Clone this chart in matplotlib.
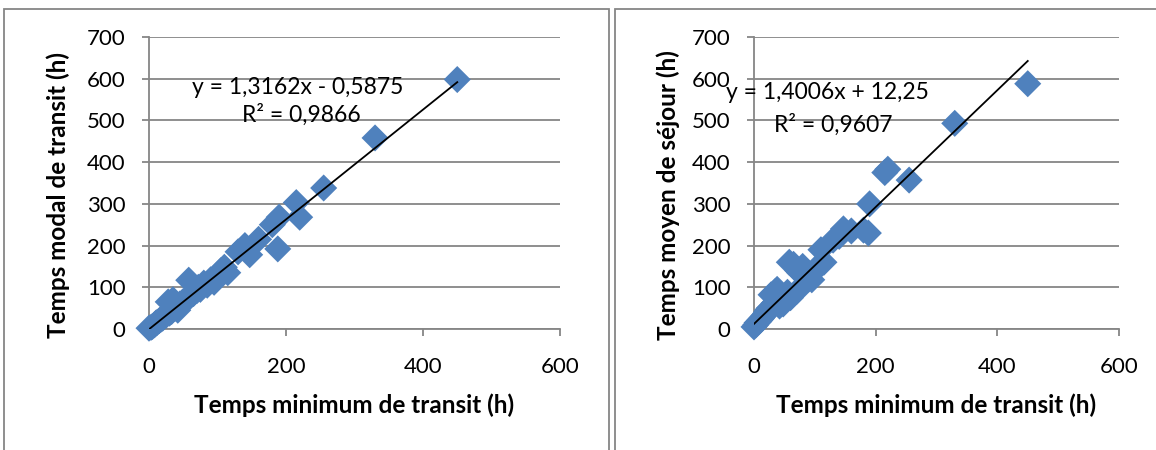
import matplotlib
matplotlib.use("Agg")
import matplotlib.pyplot as plt
from matplotlib.patches import Rectangle
import numpy as np

plt.rcParams['font.family'] = ['Lato', 'DejaVu Sans']

# Shared x values: minimum transit time (h)
x_min_transit = [0, 3, 5, 8, 10, 12, 15, 18, 20, 22, 25, 28, 30, 33, 35, 38, 40, 42,
                 45, 48, 50, 55, 58, 60, 65, 70, 72, 75, 80, 85, 90, 95, 100, 105,
                 110, 115, 130, 140, 147, 160, 180, 188, 190, 215, 220, 255, 330, 450]
# Left: modal transit time (h)
y_modal = [2, 4, 6, 10, 14, 16, 20, 24, 26, 30, 33, 65, 38, 42, 70, 50, 55, 45,
           60, 62, 66, 72, 117, 78, 85, 92, 100, 95, 110, 105, 118, 112, 130, 140,
           148, 135, 185, 200, 178, 215, 250, 192, 268, 303, 268, 338, 458, 598]
# Right: mean residence time (h)
y_mean = [5, 10, 15, 18, 22, 25, 30, 35, 40, 45, 50, 82, 55, 62, 90, 95, 65, 55,
          75, 60, 70, 88, 160, 75, 155, 90, 140, 135, 150, 130, 120, 118, 140, 150,
          190, 160, 213, 222, 240, 235, 237, 230, 300, 375, 383, 357, 493, 588]

# Trend lines (as displayed)
fit_left = (1.3162, -0.5875)
fit_right = (1.4006, 12.25)
eq_left = ["y = 1,3162x - 0,5875", "R² = 0,9866"]
eq_right = ["y = 1,4006x + 12,25", "R² = 0,9607"]
ylabels = ["Temps modal de transit (h)", "Temps moyen de séjour (h)"]
xlabel = "Temps minimum de transit (h)"

W, H = 1156, 450
fig = plt.figure(figsize=(W / 100, H / 100), dpi=100)

blue = '#4F81BD'
gray = '#868686'

# panel frames
for (x0, x1) in [(4, 609), (615, 1160)]:
    fig.patches.append(Rectangle((x0 / W, -0.1), (x1 - x0) / W, (H - 9) / H + 0.1,
                                 transform=fig.transFigure, fill=False,
                                 edgecolor=gray, linewidth=1.3))

axes_px = [(149, 560), (754, 1119)]
top_px, bot_px = 37, 329
datasets = [(y_modal, fit_left, eq_left, [(217, 578), (222, 513)]),
            (y_mean, fit_right, eq_right, [(120, 566), (130, 490)])]
ylab_x = [58, 668]

for i, ((l, r), (yv, fit, eq, eqpos)) in enumerate(zip(axes_px, datasets)):
    ax = fig.add_axes([l / W, (H - bot_px) / H, (r - l) / W, (bot_px - top_px) / H])
    ax.set_xlim(0, 600)
    ax.set_ylim(0, 700)
    ax.set_xticks([0, 200, 400, 600])
    ax.set_yticks(range(0, 701, 100))
    ax.grid(axis='y', color=gray, linewidth=1.3)
    ax.set_axisbelow(True)
    for s in ['top', 'right']:
        ax.spines[s].set_visible(False)
    for s in ['left', 'bottom']:
        ax.spines[s].set_color(gray)
        ax.spines[s].set_linewidth(1.3)
    ax.tick_params(axis='both', colors=gray, labelcolor='black', labelsize=16,
                   length=5, width=1.3)
    ax.tick_params(axis='y', pad=12)
    ax.tick_params(axis='x', pad=15)
    ax.scatter(x_min_transit, yv, marker='D', s=190, color=blue, edgecolor='none',
               zorder=3, clip_on=False)
    xs = np.array([min(x_min_transit), max(x_min_transit)])
    ax.plot(xs, fit[0] * xs + fit[1], color='black', linewidth=1.3, zorder=4)
    for t, (tx, ty) in zip(eq, eqpos):
        ax.text(tx, ty, t, ha='center', va='center', fontsize=16.5, zorder=5)
    fig.text((l + r) / 2 / W, 1 - 405 / H, xlabel, ha='center', va='center',
             fontsize=17.5, fontweight='bold')
    fig.text(ylab_x[i] / W, 1 - 195 / H, ylabels[i], ha='center', va='center',
             rotation=90, fontsize=17.5, fontweight='bold')

fig.savefig('out.png', dpi=100)
